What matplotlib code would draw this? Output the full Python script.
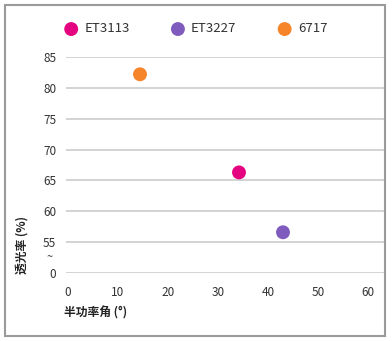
import numpy as np
import matplotlib
matplotlib.use("Agg")
import matplotlib.pyplot as plt
from matplotlib.patches import Rectangle

plt.rcParams['font.family'] = ['Noto Sans CJK SC', 'DejaVu Sans']

series = ['ET3113', 'ET3227', '6717']
angle = [34.2, 43.0, 14.4]
transmittance = [66.3, 56.6, 82.2]
colors = ['#E4047F', '#805BBE', '#F6852A']
yticks = [0, 55, 60, 65, 70, 75, 80, 85]
xticks = [0, 10, 20, 30, 40, 50, 60]

def fwd(v):
    v = np.asarray(v, dtype=float)
    return np.where(v >= 55, v, 50 + v * 5 / 55)

def inv(y):
    y = np.asarray(y, dtype=float)
    return np.where(y >= 55, y, (y - 50) * 55 / 5)

fig = plt.figure(figsize=(3.92, 3.41), dpi=100)
fig.patches.append(Rectangle((5/392, 5/341), 380/392, 331/341, transform=fig.transFigure,
                             fill=False, edgecolor='#9a9a9a', linewidth=1.5))
ax = fig.add_axes([66/392, 1 - 273/341, (385 - 66)/392, (273 - 57)/341])
ax.set_yscale('function', functions=(fwd, inv))

handles = []
for s, x, y, c in zip(series, angle, transmittance, colors):
    h = ax.scatter([x], [y], s=100, color=c, edgecolors='none', zorder=3, label=s)
    handles.append(h)

ax.set_xlim(-0.4, 63.4)
ax.set_ylim(0, 85)
ax.set_yticks(yticks)
ax.set_yticklabels([str(t) for t in yticks])
ax.set_xticks(xticks)
ax.set_xticklabels([str(t) for t in xticks])
ax.yaxis.grid(True, color='#c8c8c8', linewidth=1.1)
ax.xaxis.grid(False)
ax.set_axisbelow(True)
for sp in ax.spines.values():
    sp.set_visible(False)
ax.tick_params(axis='both', length=0, labelsize=8.5, labelcolor='#333333')
ax.tick_params(axis='y', pad=7)
ax.tick_params(axis='x', pad=9)

# break marker between 0 and 55 (data value 27.5 maps to midway)
ax.text(-3.6, 27.5, '~', ha='center', va='center', fontsize=8, color='#333333',
        transform=ax.transData)

fig.text(22/392, 1 - 245/341, '透光率 (%)', rotation=90, ha='center', va='center',
         fontsize=8.5, fontweight='bold', color='#222222')
fig.text(64/392, 1 - 313/341, '半功率角 (°)', ha='left', va='center',
         fontsize=8.5, fontweight='bold', color='#222222')

fig.legend(handles=handles, labels=series, ncol=3, loc='center left',
           bbox_to_anchor=(58/392, 1 - 29/341), frameon=False, fontsize=9.5,
           handletextpad=0.5, columnspacing=3.15, handlelength=1.0,
           labelcolor='#333333', borderpad=0)

fig.savefig('out.png', dpi=100)
